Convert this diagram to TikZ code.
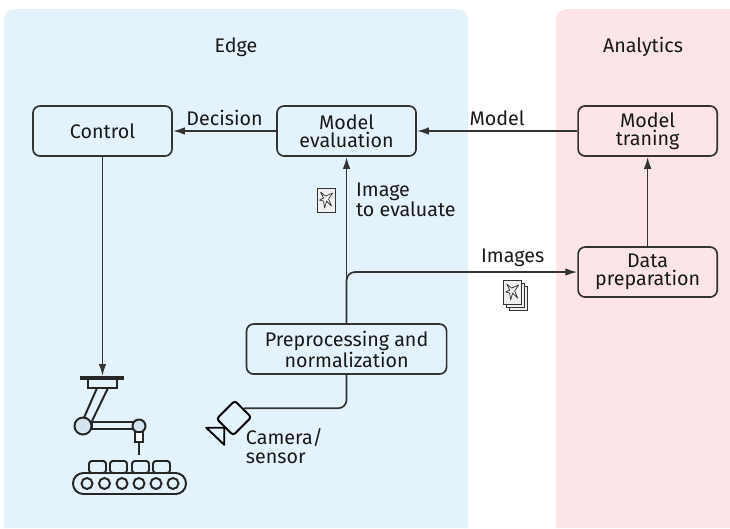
\documentclass[tikz,border=0pt]{standalone}
\usepackage{fontspec}
\setmainfont{Fira Sans}
\usetikzlibrary{positioning,arrows.meta}

\definecolor{edgebg}{HTML}{E4F2FC}
\definecolor{anabg}{HTML}{FCE4E7}
\definecolor{ink}{HTML}{333333}
\definecolor{joint}{HTML}{D5E3EE}

\newcommand{\lab}{\fontsize{14pt}{13pt}\selectfont}
\newcommand{\drawphoto}{%
  \draw[ink, line width=0.6pt, fill=black!6] (-9,-12) rectangle (9,12);
  \draw[ink, line width=0.5pt, line join=round] (-6,-8) -- (-1,-4) -- (6,-7) -- (2,-1) -- (5,6)
    -- (0,1) -- (-2,8) -- (-3,1) -- (-7,0) -- (-3,-2) -- cycle;}

\tikzset{
  box/.style={draw=ink, line width=1.2pt, rounded corners=5pt, minimum width=3.475cm,
    minimum height=1.25cm, align=center, text=black!90, font=\lab},
  lbl/.style={font=\lab, text=black!90, align=left},
  arr/.style={draw=ink, line width=1.2pt, -{Latex[length=3mm,width=1.9mm]}},
  wire/.style={draw=ink, line width=1.2pt},
  photo/.pic={\begin{scope}[sharp corners, arrows=-]\drawphoto\end{scope}},
  photos/.pic={
    \begin{scope}[sharp corners, arrows=-]
      \foreach \d in {6,3} \draw[ink, line width=0.6pt, fill=black!6] (-9+\d,-12+\d) rectangle (9+\d,12+\d);
      \drawphoto
    \end{scope}}
}

\begin{document}
\begin{tikzpicture}[x=0.025cm, y=-0.025cm]
  \useasboundingbox (0,0) rectangle (730,528);
  % the two zones
  \fill[edgebg] (4,528) [rounded corners=8pt] -- (4,9) -- (468,9) [sharp corners] -- (468,528) -- cycle;
  \fill[anabg] (556,528) [rounded corners=8pt] -- (556,9) [sharp corners] -- (730,9) -- (730,528) -- cycle;
  \node[lbl] (edge) at (236,47) {Edge};
  \node[lbl] (analytics) at (643,47) {Analytics};

  \node[box] (ctrl) at (102.5,131) {Control};
  \node[box, right of=ctrl, xshift=5.1cm] (eval) {Model\\evaluation};
  \node[box, right of=eval, xshift=6.525cm] (train) {Model\\traning};
  \node[box, below of=train, yshift=-2.525cm] (prep) {Data\\preparation};
  \node[box, below of=eval, yshift=-4.45cm, minimum width=5cm] (norm) {Preprocessing and\\normalization};

  \draw[arr] (eval) -- node[lbl, above] {Decision} (ctrl);
  \draw[arr] (train) -- node[lbl, above] {Model} (eval);
  \draw[arr] (prep) -- (train);
  \draw[arr] (norm) -- node[lbl, pos=0.74, right=1mm] {Image\\to evaluate}
    pic[pos=0.74, xshift=-0.5cm] {photo} (eval);
  \draw[arr, rounded corners=6pt] (norm) |- node[lbl, pos=0.86, above] {Images}
    pic[pos=0.86, yshift=-0.5cm] {photos} (prep);

  % camera
  \node[draw=black, line width=1.4pt, fill=edgebg, rounded corners=2pt, rotate=-45,
    minimum width=0.58cm, minimum height=0.64cm] (cam) at (234,418) {};
  \draw[black, line width=1.4pt, line join=round, fill=edgebg] (cam.south) -- ++(-18,0) -- ++(18,17) -- cycle;
  \draw[wire, rounded corners=6pt] (cam.north) -| (norm);
  \node[lbl, anchor=north west] (camlbl) at (241,424) {Camera/\\sensor};

  % robot arm and belt
  \coordinate (robot) at (102.5,376);
  \draw[arr] (ctrl) -- (robot);
  \begin{scope}[black!85, line width=1.4pt]
    \draw (97,388) -- (83,420) (108,388) -- (92,421);
    \draw[fill=edgebg] (92,422) rectangle (136,429);
    \draw[fill=joint] (83,426) circle[radius=8.5];
    \draw[fill=joint] (139,426) circle[radius=6.5];
    \draw[fill=white] (135,432) rectangle (143,442);
    \draw[line width=2pt] (139,442) -- (139,455);
    \draw[fill=edgebg] (88,379) rectangle (117,388);
    \draw[line width=2.4pt] (80,378) -- (124,378);
    \foreach \x in {89,110,132,153}
      \draw[fill=edgebg, rounded corners=2pt] (\x,461) rectangle ++(17,12);
    \draw[fill=edgebg, rounded corners=0.26cm] (73,473) rectangle (186,494);
    \foreach \x in {87,104.5,122,139,156,173}
      \draw (\x,483.5) circle[radius=5.5];
  \end{scope}
\end{tikzpicture}
\end{document}
